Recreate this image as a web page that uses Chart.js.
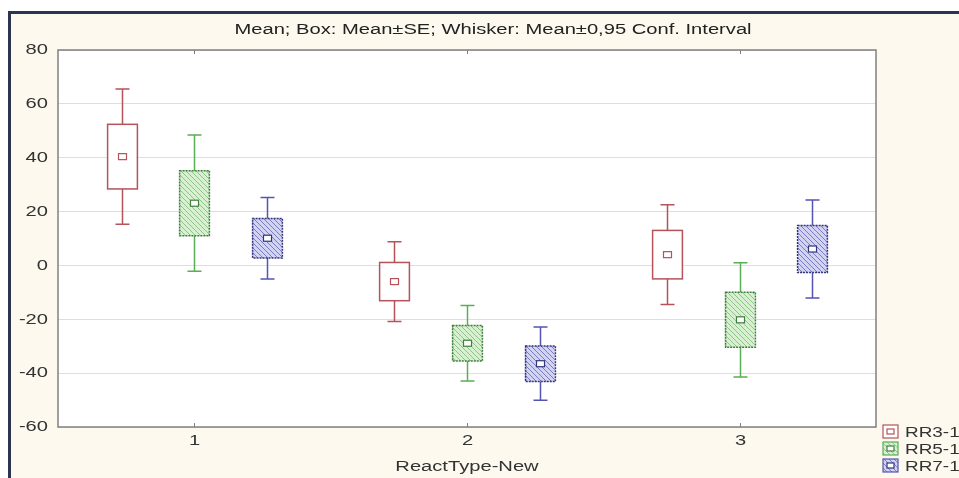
<!DOCTYPE html>
<html>
<head>
<meta charset="utf-8">
<script src="https://cdn.jsdelivr.net/npm/chart.js@4.4.1/dist/chart.umd.min.js"></script>
<style>
  html, body { margin: 0; padding: 0; background: #ffffff; }
  #wrap { width: 959px; height: 478px; position: relative; }
  canvas { display: block; }
</style>
</head>
<body>
<div id="wrap"><canvas id="chart" width="959" height="478"></canvas></div>
<script>
// Categories of the grouping variable
const categories = ['1', '2', '3'];
const seriesNames = ['RR3-1', 'RR5-1', 'RR7-1'];

// Means per series and category
const rr3Mean = [40.4, -6.0, 4.0];
const rr5Mean = [23.1, -28.9, -20.2];
const rr7Mean = [10.1, -36.5, 6.1];

// Standard errors (box half-height)
const rr3SE = [12.0, 7.1, 9.0];
const rr5SE = [12.1, 6.6, 10.2];
const rr7SE = [7.3, 6.6, 8.7];

// 0.95 confidence half-widths (whiskers)
const rr3CI = [25.1, 14.8, 18.5];
const rr5CI = [25.3, 14.0, 21.2];
const rr7CI = [15.1, 13.6, 18.2];

const yTicks = [80, 60, 40, 20, 0, -20, -40, -60];

const titleText = 'Mean; Box: Mean\u00B1SE; Whisker: Mean\u00B10,95 Conf. Interval';
const xTitle = 'ReactType-New';

const FONT = '"Liberation Sans", Arial, sans-serif';
const TEXT_SIZE = 15.5;
const STRETCH = 1.3; // wide lettering

// draw horizontally widened text anchored at (x, y)
function wideText(ctx, str, x, y, align, color, size, stretch) {
  ctx.save();
  ctx.font = (size || TEXT_SIZE) + 'px ' + FONT;
  ctx.fillStyle = color || '#333333';
  ctx.textBaseline = 'middle';
  ctx.textAlign = align;
  ctx.translate(x, y);
  ctx.scale(stretch || STRETCH, 1);
  ctx.fillText(str, 0, 0);
  ctx.restore();
}

function hatch(bg, line) {
  const c = document.createElement('canvas');
  c.width = 5; c.height = 5;
  const g = c.getContext('2d');
  g.fillStyle = bg; g.fillRect(0, 0, 5, 5);
  g.strokeStyle = line; g.lineWidth = 1;
  g.beginPath();
  g.moveTo(-1, -1); g.lineTo(6, 6);
  g.moveTo(-4, 1); g.lineTo(4, 9);
  g.moveTo(1, -4); g.lineTo(9, 4);
  g.stroke();
  return g.createPattern(c, 'repeat');
}

const styles = [
  { fill: '#ffffff', edge: '#b5525a', whisker: '#b5525a', dash: [] },
  { fill: hatch('#d8efd1', '#8cc585'), edge: '#3f7f3f', whisker: '#5aae55', dash: [2, 1] },
  { fill: hatch('#d2d2f1', '#7a7ac6'), edge: '#34347c', whisker: '#5454b4', dash: [2, 1] }
];

const means = [rr3Mean, rr5Mean, rr7Mean];
const ses = [rr3SE, rr5SE, rr7SE];
const cis = [rr3CI, rr5CI, rr7CI];

const datasets = seriesNames.map((name, i) => ({
  label: name,
  data: means[i].map((m, k) => [m - ses[i][k], m + ses[i][k]]),
  backgroundColor: styles[i].fill,
  borderWidth: 0,
  categoryPercentage: 0.8,
  barPercentage: 0.41
}));

const frame = {
  id: 'frame',
  beforeDraw(chart) {
    const ctx = chart.ctx, a = chart.chartArea;
    ctx.save();
    ctx.fillStyle = '#ffffff';
    ctx.fillRect(0, 0, chart.width, chart.height);
    ctx.fillStyle = '#fdf9ee';
    ctx.fillRect(9, 12, chart.width - 9, chart.height - 12);
    ctx.fillStyle = '#2b3550';
    ctx.fillRect(8, 11, 3, chart.height - 11);
    ctx.fillRect(8, 11, chart.width - 8, 3);
    ctx.fillStyle = '#ffffff';
    ctx.fillRect(a.left, a.top, a.right - a.left, a.bottom - a.top);
    ctx.restore();
    wideText(ctx, titleText, 493, 30, 'center', '#222222');
  },
  afterDatasetsDraw(chart) {
    const ctx = chart.ctx, a = chart.chartArea, y = chart.scales.y, x = chart.scales.x;
    ctx.save();
    chart.data.datasets.forEach((ds, i) => {
      const meta = chart.getDatasetMeta(i);
      const st = styles[i];
      meta.data.forEach((bar, k) => {
        const m = means[i][k], ci = cis[i][k], se = ses[i][k];
        const cx = Math.round(bar.x) + 0.5;
        const yTop = y.getPixelForValue(m + se), yBot = y.getPixelForValue(m - se);
        const wTop = y.getPixelForValue(m + ci), wBot = y.getPixelForValue(m - ci);
        ctx.strokeStyle = st.whisker;
        ctx.lineWidth = 1.5;
        ctx.setLineDash([]);
        ctx.beginPath();
        ctx.moveTo(cx, yTop); ctx.lineTo(cx, wTop);
        ctx.moveTo(cx - 7, wTop); ctx.lineTo(cx + 7, wTop);
        ctx.moveTo(cx, yBot); ctx.lineTo(cx, wBot);
        ctx.moveTo(cx - 7, wBot); ctx.lineTo(cx + 7, wBot);
        ctx.stroke();
        // box outline
        ctx.strokeStyle = st.edge;
        ctx.lineWidth = 1.5;
        ctx.setLineDash(st.dash);
        const hw = bar.width / 2;
        ctx.strokeRect(cx - hw, yTop, hw * 2, yBot - yTop);
        ctx.setLineDash([]);
        // mean marker
        const my = y.getPixelForValue(m);
        ctx.fillStyle = '#ffffff';
        ctx.fillRect(cx - 4, my - 3, 8, 6);
        ctx.strokeStyle = st.edge;
        ctx.lineWidth = 1.2;
        ctx.strokeRect(cx - 4, my - 3, 8, 6);
      });
    });
    // plot frame and category tick marks
    ctx.strokeStyle = '#808080';
    ctx.lineWidth = 1.5;
    ctx.strokeRect(a.left, a.top, a.right - a.left, a.bottom - a.top);
    ctx.lineWidth = 1;
    categories.forEach((c, k) => {
      const px = Math.round(x.getPixelForValue(k)) + 0.5;
      ctx.beginPath();
      ctx.moveTo(px, a.top); ctx.lineTo(px, a.top + 4);
      ctx.moveTo(px, a.bottom); ctx.lineTo(px, a.bottom - 4);
      ctx.stroke();
      wideText(ctx, c, px, 441, 'center');
    });
    // y tick labels
    yTicks.forEach(v => {
      wideText(ctx, String(v), 48, y.getPixelForValue(v), 'right');
    });
    wideText(ctx, xTitle, (a.left + a.right) / 2, 467, 'center');
    // legend
    seriesNames.forEach((name, i) => {
      const cy = 432 + i * 17;
      const st = styles[i];
      ctx.fillStyle = st.fill;
      ctx.fillRect(883, cy - 7, 15, 13);
      ctx.strokeStyle = st.whisker;
      ctx.lineWidth = 1.2;
      ctx.strokeRect(883, cy - 7, 15, 13);
      ctx.fillStyle = '#ffffff';
      ctx.fillRect(887, cy - 3, 7, 5);
      ctx.strokeStyle = st.edge;
      ctx.strokeRect(887, cy - 3, 7, 5);
      wideText(ctx, name, 905, cy + 1, 'left', '#333333', 15.5, 1.22);
    });
    ctx.restore();
  }
};

new Chart(document.getElementById('chart'), {
  type: 'bar',
  data: { labels: categories, datasets },
  plugins: [frame],
  options: {
    responsive: false,
    animation: false,
    devicePixelRatio: 1,
    layout: { padding: { left: 0, right: 83, top: 50, bottom: 0 } },
    plugins: { legend: { display: false }, tooltip: { enabled: false }, title: { display: false } },
    scales: {
      x: {
        grid: { display: false, drawTicks: false },
        border: { display: false },
        ticks: { display: false },
        afterFit(s) { s.height = 51; }
      },
      y: {
        min: -60, max: 80,
        afterBuildTicks(s) { s.ticks = yTicks.map(v => ({ value: v })); },
        grid: { color: '#dedede', lineWidth: 1, drawTicks: false },
        border: { display: false },
        ticks: { display: false },
        afterFit(s) { s.width = 58; }
      }
    }
  }
});
</script>
</body>
</html>
